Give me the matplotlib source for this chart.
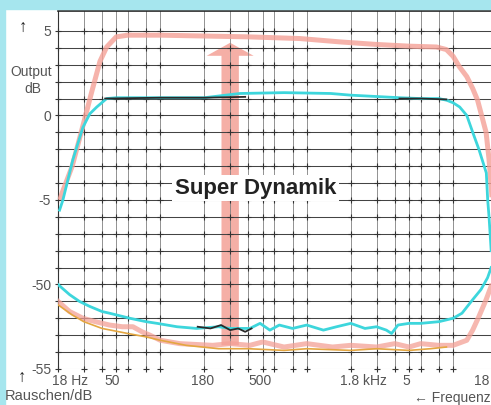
"""
plot.py
Frequency response (Output/dB) and noise floor (Rauschen/dB) of a
tape deck, with and without "Super Dynamik". Scan-style recreation.
"""

import numpy as np
import matplotlib
matplotlib.use("Agg")
import matplotlib.pyplot as plt
from matplotlib.patches import Rectangle

plt.rcParams['font.family'] = ['Liberation Sans', 'DejaVu Sans']

# ------------------------------------------------------------------ #
# Data (Hz / dB)
# ------------------------------------------------------------------ #
resp_sd_freq = [20.6, 21.3, 25, 29, 34, 38.7, 43, 50, 60, 100, 200, 400, 900, 1700,
                3000, 5000, 7700, 9000, 10000, 11000, 12400, 13600, 14700, 16800,
                17600, 18500, 19500]
resp_sd_db = [-5.0, -4.6, -3.0, -0.9, 1.4, 3.2, 4.05, 4.65, 4.75, 4.75, 4.7, 4.65, 4.55, 4.35,
              4.2, 4.1, 4.05, 3.9, 3.5, 2.9, 2.3, 1.6, 0.9, -1.0,
              -2.6, -5.0, -7.5]

resp_freq = [20.5, 21.6, 25.3, 29.6, 33, 36.8, 43, 50, 100, 200, 350, 700, 1460, 2000,
             4300, 6000, 8000, 9040, 10000, 11090, 12400, 13620, 15000, 16860,
             17230, 17600, 18200]
resp_db = [-5.6, -5.0, -2.6, -0.7, 0.1, 0.5, 1.0, 1.05, 1.05, 1.05, 1.3, 1.35, 1.3, 1.2,
           1.05, 1.0, 1.0, 0.9, 0.75, 0.5, 0.0, -1.0, -2.0, -3.4,
           -5.0, -6.0, -8.0]

resp_k_freq = [42, 100, 200, 380, 400, 4300, 6000, 9000]
resp_k_db = [1.0, 1.05, 1.05, 1.1, np.nan, 1.0, 1.0, 0.95]

noise_c_freq = [20, 24, 28, 33, 40, 45, 62, 80, 95, 130, 177, 250, 300, 409, 480, 560,
                650, 800, 1000, 1300, 1600, 2000, 2500, 3000, 3500, 3800, 4200, 5000,
                6000, 8000, 10000, 11500, 13600, 15500, 17200, 18200]
noise_c_db = [-50.0, -50.6, -51.0, -51.3, -51.6, -51.7, -52.0, -52.2, -52.3, -52.5, -52.6,
              -52.5, -52.6, -52.6, -52.3, -52.7, -52.4, -52.6, -52.4, -52.7, -52.5, -52.3,
              -52.6, -52.5, -52.7, -52.9, -52.4, -52.3, -52.3, -52.2, -52.0, -51.7, -50.9,
              -50.3, -49.6, -49.0]

noise_sd_freq = [20, 24, 29.6, 36, 45, 55, 65, 75, 85, 100, 136, 228, 300, 409, 500, 700,
                 1000, 1500, 2000, 3000, 4000, 5000, 6000, 8000, 10000, 12400, 13600,
                 15000, 16800, 18200]
noise_sd_db = [-51.0, -51.6, -52.0, -52.2, -52.4, -52.5, -52.5, -52.8, -53.0, -53.3, -53.5,
               -53.6, -53.5, -53.6, -53.4, -53.7, -53.5, -53.7, -53.6, -53.7, -53.5, -53.7,
               -53.5, -53.6, -53.6, -53.3, -52.7, -51.9, -50.9, -50.1]

noise_o_freq = [20, 25, 30, 40, 60, 80, 100, 150, 250, 400, 700, 1000, 2000, 3000, 5000,
                7000, 9000]
noise_o_db = [-51.2, -51.8, -52.2, -52.6, -52.9, -53.1, -53.3, -53.6, -53.8, -53.8, -53.9,
              -53.8, -53.9, -53.8, -53.9, -53.8, -53.7]

noise_k_freq = [180, 220, 260, 300, 340, 380, 420]
noise_k_db = [-52.5, -52.6, -52.4, -52.7, -52.6, -52.8, -52.6]

xtick_freqs = [20, 50, 200, 500, 2000, 5000, 20000]
xtick_labels = ["18 Hz", "50", "180", "500", "1.8 kHz", "5", "18"]
ytick_pos = [5, 0, -5, -10, -15]
ytick_labels = ["5", "0", "-5", "-50", "-55"]

grid_freqs = [20, 30, 40, 50, 60, 80, 100, 200, 300, 400, 500, 600, 800, 1000,
              2000, 3000, 4000, 5000, 6000, 8000, 10000]
grid_levels = np.arange(5, -16, -1)

# noise scale sits 40 dB below the output scale on the same grid
NOISE_SHIFT = 40.0


def noise(db):
    return np.asarray(db, dtype=float) + NOISE_SHIFT


W, H = 491, 405
fig = plt.figure(figsize=(W / 100, H / 100), dpi=100)
fig.patch.set_facecolor("white")

# scan border (cyan paper edge)
fig.patches.append(Rectangle((0, 1 - 9 / H), 1, 9 / H, transform=fig.transFigure,
                             color="#a6e6ee", zorder=0))
fig.patches.append(Rectangle((0, 0), 5 / W, 1, transform=fig.transFigure,
                             color="#a6e6ee", zorder=0))

ax = fig.add_axes([58 / W, (H - 369) / H, (W - 58) / W, (369 - 11) / H])
ax.set_xscale("log")
ax.set_xlim(20, 18150)
ax.set_ylim(-15, 6.18)
ax.set_facecolor("white")

# grid (thin, with crosses at every intersection like the printed paper)
for f in grid_freqs:
    ax.axvline(f, color="#808080", lw=0.6, zorder=2)
for lv in grid_levels:
    ax.axhline(lv, color="#444444" if lv > -15 else "#aaaaaa", lw=0.75, zorder=2)
gx, gy = np.meshgrid(grid_freqs, grid_levels)
ax.scatter(gx.ravel(), gy.ravel(), marker="+", s=16, lw=0.8, color="#333333", zorder=2,
           clip_on=False)

# Super Dynamik arrow
ax.annotate("", xy=(300, 4.3), xytext=(300, -13.6),
            arrowprops=dict(arrowstyle="simple,head_length=0.75,head_width=2.7,tail_width=1.0",
                            mutation_scale=12.5, color="#f29488", alpha=0.75, lw=0,
                            shrinkA=0, shrinkB=0), zorder=1)

# response curves
ax.plot(resp_sd_freq, resp_sd_db, color="#f4a096", lw=3.6, alpha=0.8, zorder=3,
        solid_capstyle="butt")
ax.plot(resp_freq, resp_db, color="#3dd6dc", lw=2.0, zorder=4)
ax.plot(resp_k_freq, resp_k_db, color="#2a2a2a", lw=1.3, zorder=5)

# noise curves
ax.plot(noise_sd_freq, noise(noise_sd_db), color="#f4a096", lw=3.6, alpha=0.75, zorder=3)
ax.plot(noise_o_freq, noise(noise_o_db), color="#e4a640", lw=1.2, zorder=4)
ax.plot(noise_c_freq, noise(noise_c_db), color="#3dd6dc", lw=2.0, zorder=4)
ax.plot(noise_k_freq, noise(noise_k_db), color="#2a2a2a", lw=1.3, zorder=5)

ax.text(449, -4.3, "Super Dynamik", fontsize=16, fontweight="bold", color="#222222",
        ha="center", va="center", zorder=6,
        bbox=dict(boxstyle="square,pad=0.12", fc="white", ec="none"))

# axes frame
for side in ["right", "bottom"]:
    ax.spines[side].set_visible(False)
ax.spines["left"].set_color("#333333")
ax.spines["top"].set_color("#222222")
ax.spines["top"].set_linewidth(1.2)

ax.set_xticks([])
ax.minorticks_off()
ax.set_yticks(ytick_pos)
ax.set_yticklabels(ytick_labels, fontsize=10, color="#555555")
ax.tick_params(axis="y", length=0, pad=5)

# x labels: the number is centred on its grid line, units trail behind
label_dx = [12, -4, -2, -3, 13, -3, -15]
for f, lab, dx in zip(xtick_freqs, xtick_labels, label_dx):
    ax.annotate(lab, xy=(f, -15), xytext=(dx, -12), textcoords="offset pixels",
                ha="center", va="center", fontsize=10, color="#555555",
                annotation_clip=False)

fig.text(31 / W, 1 - 72 / H, "Output", fontsize=10, color="#555555", ha="center", va="center")
fig.text(33 / W, 1 - 89 / H, "dB", fontsize=10, color="#555555", ha="center", va="center")
fig.text(5 / W, 1 - 396 / H, "Rauschen/dB", fontsize=10.5, color="#555555", ha="left",
         va="center")
fig.text(W / W, 1 - 398 / H, "\u2190 Frequenz", fontsize=10, color="#555555", ha="right",
         va="center")
fig.text(23 / W, 1 - 27 / H, "\u2191", fontsize=12, fontweight="bold", color="#222222",
         ha="center", va="center")
fig.text(22 / W, 1 - 377 / H, "\u2191", fontsize=12, fontweight="bold", color="#222222",
         ha="center", va="center")

fig.savefig("out.png", dpi=100)
